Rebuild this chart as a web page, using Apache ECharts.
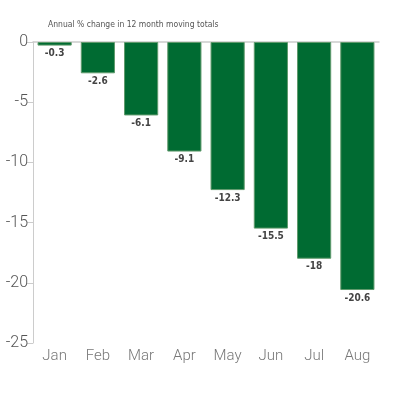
<!DOCTYPE html>
<html>
<head>
<meta charset="utf-8">
<script src="https://cdn.jsdelivr.net/npm/echarts@6/dist/echarts.min.js"></script>
<style>
  html, body { margin: 0; padding: 0; background: #fff; }
  #chart { width: 400px; height: 400px; }
</style>
</head>
<body>
<div id="chart"></div>
<script>
// data
var months = ["Jan", "Feb", "Mar", "Apr", "May", "Jun", "Jul", "Aug"];
var changes = [-0.3, -2.6, -6.1, -9.1, -12.3, -15.5, -18, -20.6];
var title = "Annual % change in 12 month moving totals";

var narrow = "'DejaVu Sans Condensed', sans-serif";
var light = "Roboto, 'Liberation Sans', sans-serif";

var chart = echarts.init(document.getElementById("chart"));

chart.setOption({
    animation: false,
    title: {
        text: title,
        left: 48,
        top: 20,
        padding: 0,
        textStyle: {
            fontFamily: narrow,
            fontSize: 8.5,
            fontWeight: "normal",
            color: "#555"
        }
    },
    grid: { left: 33, right: 21, top: 42, bottom: 57 },
    xAxis: [{
        // line along zero with ticks between bars, no labels
        type: "category",
        data: months,
        position: "top",
        axisLine: { lineStyle: { color: "#ccc", width: 1.5 } },
        axisTick: { inside: true, length: 6, lineStyle: { color: "#ccc" } },
        axisLabel: { show: false }
    }, {
        // labels along the bottom
        type: "category",
        data: months,
        position: "bottom",
        axisLine: { show: false },
        axisTick: { show: false },
        axisLabel: {
            margin: 6,
            fontFamily: light,
            fontWeight: 300,
            fontSize: 15,
            color: "#777"
        }
    }],
    yAxis: {
        type: "value",
        min: -25,
        max: 0,
        interval: 5,
        axisLine: { show: true, lineStyle: { color: "#ccc" } },
        axisTick: { show: true, length: 6, lineStyle: { color: "#ccc" } },
        splitLine: { show: false },
        axisLabel: {
            margin: 5,
            fontFamily: light,
            fontWeight: 300,
            fontSize: 16,
            color: "#555"
        }
    },
    series: [{
        type: "bar",
        xAxisIndex: 0,
        data: changes,
        barCategoryGap: "21%",
        itemStyle: {
            color: "#006b32",
            borderColor: "#5f9a6c",
            borderWidth: 1
        },
        label: {
            show: true,
            position: "bottom",
            distance: 3,
            fontFamily: narrow,
            fontSize: 10,
            fontWeight: "bold",
            color: "#444"
        }
    }]
});
</script>
</body>
</html>
